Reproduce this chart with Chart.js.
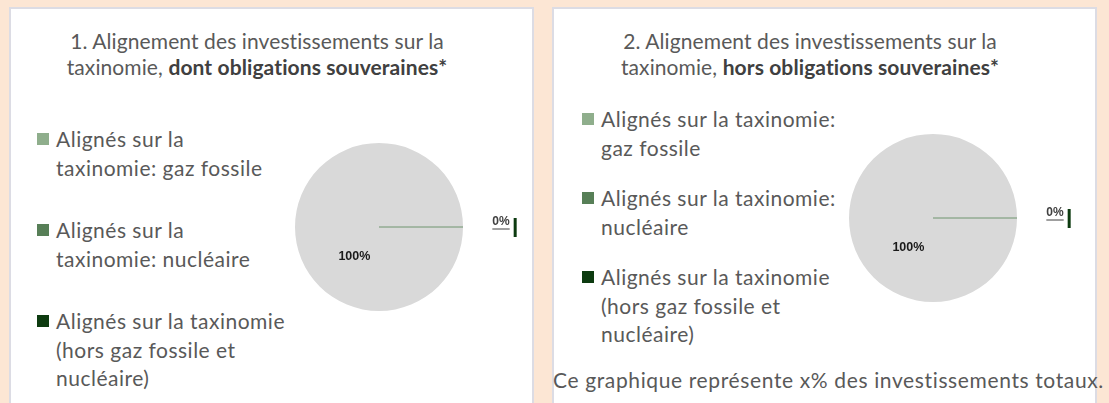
<!DOCTYPE html>
<html>
<head>
<meta charset="utf-8">
<script src="https://cdn.jsdelivr.net/npm/chart.js@4/dist/chart.umd.min.js"></script>
<style>
  html, body { margin:0; padding:0; }
  body { width:1109px; height:403px; background:#fce6d4; position:relative; overflow:hidden;
         font-family: Lato, "Open Sans", sans-serif; color:#595959; }
  .panel { position:absolute; background:#fff; border:2px solid #dcdce4; box-sizing:border-box; }
  .title { position:absolute; text-align:center; font-size:21px; line-height:26px; white-space:nowrap; letter-spacing:0.1px; }
  .title b { color:#404040; }
  .leg { position:absolute; font-size:21px; line-height:28.5px; white-space:nowrap; letter-spacing:0.5px; }
  .leg .sq { position:absolute; width:12px; height:12px; left:-19px; top:8px; }
  .foot { position:absolute; font-size:21px; white-space:nowrap; letter-spacing:0.63px; }
  canvas { position:absolute; }
</style>
</head>
<body>
<div class="panel" style="left:9px;top:7px;width:525px;height:410px;"></div>
<div class="panel" style="left:552px;top:7px;width:545px;height:410px;"></div>

<div class="title" style="left:27px;width:460px;top:28px;">1. Alignement des investissements sur la<br>taxinomie, <b>dont obligations souveraines*</b></div>
<div class="title" style="left:580px;width:460px;top:28px;">2. Alignement des investissements sur la<br>taxinomie, <b>hors obligations souveraines*</b></div>

<div id="leg1"></div>
<div id="leg2"></div>
<div class="foot" style="left:553px;top:367px;">Ce graphique représente x% des investissements totaux.</div>

<canvas id="c1" width="240" height="188" style="left:289px;top:133px;"></canvas>
<canvas id="c2" width="240" height="188" style="left:843px;top:124px;"></canvas>

<script>
// ---- data ----
const categories = [
  'Alignés sur la taxinomie: gaz fossile',
  'Alignés sur la taxinomie: nucléaire',
  'Alignés sur la taxinomie (hors gaz fossile et nucléaire)',
  'Non alignés'
];
const valuesSovereignIncl = [0, 0, 0, 100];
const valuesSovereignExcl = [0, 0, 0, 100];
const sliceColors = ['#8fae8c', '#577f57', '#0d3b10', '#d9d9d9'];
const legendLines1 = [
  ['Alignés sur la', 'taxinomie: gaz fossile'],
  ['Alignés sur la', 'taxinomie: nucléaire'],
  ['Alignés sur la taxinomie', '(hors gaz fossile et', 'nucléaire)']
];
const legendLines2 = [
  ['Alignés sur la taxinomie:', 'gaz fossile'],
  ['Alignés sur la taxinomie:', 'nucléaire'],
  ['Alignés sur la taxinomie', '(hors gaz fossile et', 'nucléaire)']
];
const zeroLabelIndex = 2;   // category whose "0%" label is shown outside
const mainLabelIndex = 3;   // category whose "100%" label sits inside

// ---- legends (HTML text) ----
function buildLegend(id, lines, left, top, step) {
  const host = document.getElementById(id);
  lines.forEach((ls, i) => {
    const d = document.createElement('div');
    d.className = 'leg';
    d.style.left = left + 'px';
    d.style.top = (top + i * step) + 'px';
    d.innerHTML = '<span class="sq" style="background:' + sliceColors[i] + '"></span>' + ls.join('<br>');
    host.appendChild(d);
  });
}
buildLegend('leg1', legendLines1, 56, 125, 91);
buildLegend('leg2', legendLines2, 601, 105, 79);

// ---- plugin: labels and zero-slice line ----
const pieLabels = {
  id: 'pieLabels',
  afterDatasetsDraw(chart) {
    const ctx = chart.ctx;
    const meta = chart.getDatasetMeta(0);
    const data = chart.data.datasets[0].data;
    const total = data.reduce((a, b) => a + b, 0);
    const main = meta.data[mainLabelIndex];
    const p = main.getProps(['x', 'y', 'startAngle', 'outerRadius'], true);
    ctx.save();
    // thin line at the slice boundary (zero-width slices)
    ctx.strokeStyle = '#6f946f';
    ctx.lineWidth = 1;
    ctx.beginPath();
    ctx.moveTo(p.x, p.y);
    ctx.lineTo(p.x + Math.cos(p.startAngle) * p.outerRadius, p.y + Math.sin(p.startAngle) * p.outerRadius);
    ctx.stroke();
    // main label
    const pct = Math.round(data[mainLabelIndex] / total * 100) + '%';
    const a = p.startAngle + 0.36 * 2 * Math.PI;
    ctx.fillStyle = '#1a1a1a';
    ctx.font = 'bold 12.5px "Liberation Sans", Arial, sans-serif';
    ctx.textAlign = 'center';
    ctx.textBaseline = 'middle';
    ctx.fillText(pct, p.x + Math.cos(a) * p.outerRadius * 0.46, p.y + Math.sin(a) * p.outerRadius * 0.46);
    // zero label outside
    const z = Math.round(data[zeroLabelIndex] / total * 100) + '%';
    ctx.font = 'bold 12px "Liberation Sans", Arial, sans-serif';
    const lx = p.x + Math.cos(p.startAngle) * (p.outerRadius + 38);
    const ly = p.y + Math.sin(p.startAngle) * p.outerRadius - 5;
    ctx.fillStyle = '#404040';
    ctx.fillText(z, lx, ly);
    const w = ctx.measureText(z).width;
    ctx.strokeStyle = '#404040';
    ctx.beginPath();
    ctx.moveTo(lx - w / 2, ly + 7);
    ctx.lineTo(lx + w / 2, ly + 7);
    ctx.stroke();
    // key bar
    ctx.fillStyle = sliceColors[zeroLabelIndex];
    ctx.fillRect(lx + w / 2 + 4, ly - 4, 3, 19);
    ctx.restore();
  }
};

function makePie(id, values) {
  new Chart(document.getElementById(id), {
    type: 'pie',
    data: {
      labels: categories,
      datasets: [{ data: values, backgroundColor: sliceColors, borderWidth: 0 }]
    },
    options: {
      responsive: false,
      animation: false,
      rotation: 90,
      layout: { padding: { left: 6, top: 10, right: 66, bottom: 10 } },
      plugins: { legend: { display: false }, tooltip: { enabled: false } }
    },
    plugins: [pieLabels]
  });
}
makePie('c1', valuesSovereignIncl);
makePie('c2', valuesSovereignExcl);
</script>
</body>
</html>
